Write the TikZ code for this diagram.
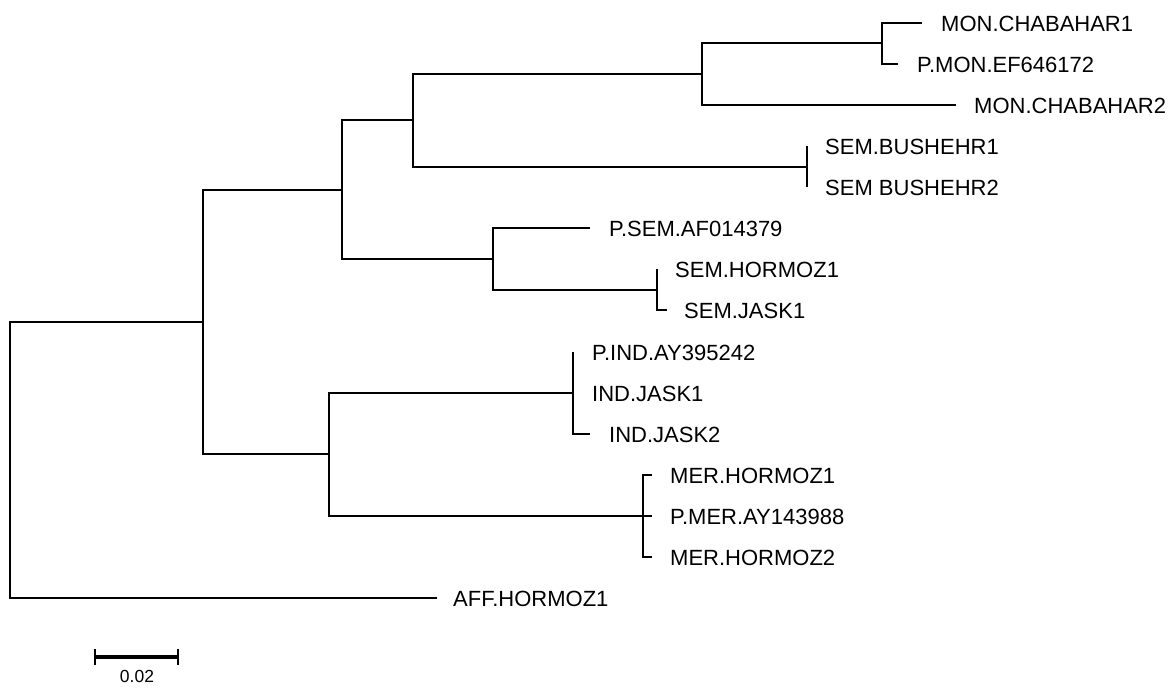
\documentclass[tikz,border=0pt]{standalone}
\usepackage{fontspec}
\setmainfont{Liberation Sans}
\begin{document}
\begin{tikzpicture}[x=1pt,y=-1pt,
  branch/.style={draw=black,line width=1.7pt},
  leaflabel/.style={anchor=base west,inner sep=0pt,font=\fontsize{22}{26}\selectfont},
  scalebar/.style={draw=black,line width=3.2pt}]
\useasboundingbox (0,0) rectangle (1176,688);
% leaves (tips)
\coordinate (L1) at (922,23);
\coordinate (L2) at (898,64);
\coordinate (L3) at (956,105);
\coordinate (L4) at (807,146);
\coordinate (L5) at (807,187);
\coordinate (L6) at (590,228);
\coordinate (L7) at (657,269);
\coordinate (L8) at (667,310);
\coordinate (L9) at (573,352);
\coordinate (L10) at (573,393);
\coordinate (L11) at (590,434);
\coordinate (L12) at (652,475);
\coordinate (L13) at (652,516);
\coordinate (L14) at (652,557);
\coordinate (L15) at (437,598);
% internal nodes
\coordinate (A) at (882,43);
\coordinate (B) at (702,74);
\coordinate (C) at (807,167);
\coordinate (D) at (413,120);
\coordinate (E) at (657,290);
\coordinate (F) at (493,259);
\coordinate (G) at (342,190);
\coordinate (H) at (573,393);
\coordinate (I) at (643,516);
\coordinate (J) at (329,454);
\coordinate (K) at (203,322);
\coordinate (R) at (10,460);
% branches
\path[branch] (A) |- (L1) (A) |- (L2);
\path[branch] (B) |- (A) (B) |- (L3);
\path[branch] (C) |- (L4) (C) |- (L5);
\path[branch] (D) |- (B) (D) |- (C);
\path[branch] (E) |- (L7) (E) |- (L8);
\path[branch] (F) |- (L6) (F) |- (E);
\path[branch] (G) |- (D) (G) |- (F);
\path[branch] (H) |- (L9) (H) |- (L11) (H) -- (L10);
\path[branch] (I) |- (L12) (I) |- (L14) (I) -- (L13);
\path[branch] (J) |- (H) (J) |- (I);
\path[branch] (K) |- (G) (K) |- (J);
\path[branch] (R) |- (K) (R) |- (L15);
% labels
\node[leaflabel] (t1) at (941,31) {MON.CHABAHAR1};
\node[leaflabel] (t2) at (917,72) {P.MON.EF646172};
\node[leaflabel] (t3) at (974,113) {MON.CHABAHAR2};
\node[leaflabel] (t4) at (825,154) {SEM.BUSHEHR1};
\node[leaflabel] (t5) at (825,195) {SEM BUSHEHR2};
\node[leaflabel] (t6) at (609,236) {P.SEM.AF014379};
\node[leaflabel] (t7) at (675,277) {SEM.HORMOZ1};
\node[leaflabel] (t8) at (684,318) {SEM.JASK1};
\node[leaflabel] (t9) at (592,360) {P.IND.AY395242};
\node[leaflabel] (t10) at (592,401) {IND.JASK1};
\node[leaflabel] (t11) at (609,442) {IND.JASK2};
\node[leaflabel] (t12) at (670,483) {MER.HORMOZ1};
\node[leaflabel] (t13) at (670,524) {P.MER.AY143988};
\node[leaflabel] (t14) at (670,565) {MER.HORMOZ2};
\node[leaflabel] (t15) at (453,606) {AFF.HORMOZ1};
% scale bar
\coordinate (s1) at (95,657);
\coordinate (s2) at (178,657);
\path[scalebar] (s1) -- (s2);
\path[draw=black,line width=2.6pt] ([yshift=-8]s1) -- ([yshift=8]s1);
\path[draw=black,line width=2.6pt] ([yshift=-8]s2) -- ([yshift=8]s2);
\node[anchor=base,inner sep=0pt,font=\fontsize{17.5}{20}\selectfont] (sl) at (137,682) {0.02};
\end{tikzpicture}
\end{document}
